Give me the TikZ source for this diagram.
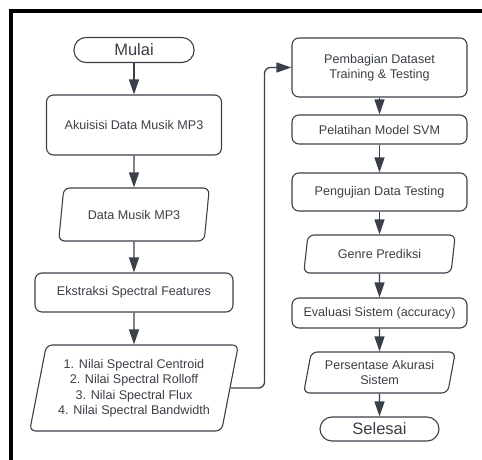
\documentclass[tikz,border=0pt]{standalone}
\usepackage{fontspec}
\setmainfont{Liberation Sans}
\usetikzlibrary{shapes.geometric,arrows.meta}
\definecolor{linegray}{HTML}{3A4049}
\definecolor{textgray}{HTML}{3A3F45}
\tikzset{
		base/.style    = {draw=linegray, line width=1.1pt, text=textgray,
				align=center, inner sep=0pt,
				font=\fontsize{12.6}{15.5}\selectfont},
		term/.style    = {base, rectangle, rounded corners=12pt,
				minimum width=120pt, minimum height=25pt,
				font=\fontsize{16.5}{18}\selectfont},
		proc/.style    = {base, rectangle, rounded corners=7pt,
				minimum width=175pt},
		io/.style      = {base, trapezium, trapezium stretches=true,
				trapezium left angle=#1, trapezium right angle=180-#1,
				rounded corners=6pt},
		arr/.style     = {draw=linegray, line width=1.3pt,
				-{Triangle[length=15pt, width=10pt]}}
	}
\begin{document}
\begin{tikzpicture}[x=1pt, y=-1pt]
	\useasboundingbox (0,0) rectangle (482,460);
	\draw[line width=3.2pt] (11,460) |- (482,11);
	% kolom kiri
	\node[term] (mulai) at (134,50) {Mulai};
	\node[proc, minimum height=60pt] (akuisisi) at (134,125) {Akuisisi Data Musik MP3};
	\node[io=70, minimum width=152pt, minimum height=53pt] (datamp3) at (134,214.5) {Data Musik MP3};
	\node[proc, minimum width=198pt, minimum height=39pt] (ekstraksi) at (134,292.5) {Ekstraksi Spectral Features};
	\node[io=76, minimum width=209pt, minimum height=86pt] (fitur) at (134,388)
		{1. Nilai Spectral Centroid\\2. Nilai Spectral Rolloff\\3. Nilai Spectral Flux\\4. Nilai Spectral Bandwidth};
	% kolom kanan
	\node[proc, minimum height=59pt] (pembagian) at (379.5,67.5) {Pembagian Dataset\\Training \& Testing};
	\node[proc, minimum height=29pt] (pelatihan) at (379.5,129.5) {Pelatihan Model SVM};
	\node[proc, minimum height=38pt] (pengujian) at (379.5,192) {Pengujian Data Testing};
	\node[io=75, minimum width=152pt, minimum height=38pt] (genre) at (379.5,254) {Genre Prediksi};
	\node[proc, minimum height=30pt] (evaluasi) at (379.5,313) {Evaluasi Sistem (accuracy)};
	\node[io=76, minimum width=152pt, minimum height=41pt] (persentase) at (379.5,372.5) {Persentase Akurasi\\Sistem};
	\node[term, minimum width=119pt, minimum height=24pt] (selesai) at (379.5,429) {Selesai};

	\draw[arr] (mulai) -- (akuisisi);
	\draw[arr] (akuisisi) -- (datamp3);
	\draw[arr] (datamp3) -- (ekstraksi);
	\draw[arr] (ekstraksi) -- (fitur);
	\draw[arr, rounded corners=6pt] (fitur.east) -- ++(34,0) |- (pembagian.west);
	\draw[arr] (pembagian) -- (pelatihan);
	\draw[arr] (pelatihan) -- (pengujian);
	\draw[arr] (pengujian) -- (genre);
	\draw[arr] (genre) -- (evaluasi);
	\draw[arr] (evaluasi) -- (persentase);
	\draw[arr] (persentase) -- (selesai);
\end{tikzpicture}
\end{document}
